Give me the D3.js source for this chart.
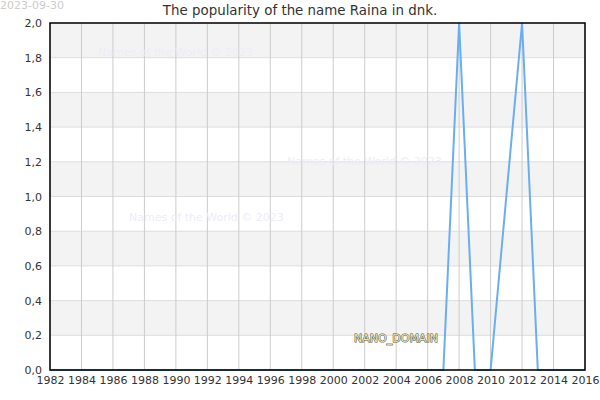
<!DOCTYPE html>
<html>
<head>
<meta charset="utf-8">
<script src="https://cdn.jsdelivr.net/npm/d3@7"></script>
<style>
  body { margin: 0; background: #fff; }
  svg { font-family: "DejaVu Sans", sans-serif; }
</style>
</head>
<body>
<div id="chart"></div>
<script>
// data
var years = d3.range(1982, 2017);
var values = [0, 0, 0, 0, 0, 0, 0, 0, 0, 0,   // 1982-1991
  0, 0, 0, 0, 0, 0, 0, 0, 0, 0,               // 1992-2001
  0, 0, 0, 0, 0, 0, 2, 0, 0, 1,               // 2002-2011
  2, 0, 0, 0, 0];                             // 2012-2016
var yTicks = [0, 0.2, 0.4, 0.6, 0.8, 1.0, 1.2, 1.4, 1.6, 1.8, 2.0];
var xTicks = d3.range(1982, 2017, 2);
var watermarks = [[98, 52], [287, 161], [129, 217]];

var lineColor = "#6aaef0";
var textGrey = "#333";

const margin = { top: 23, right: 15, bottom: 30, left: 50 },
  width = 600 - margin.left - margin.right,
  height = 400 - margin.top - margin.bottom;

const svgRoot = d3.select("#chart")
  .append("svg")
  .attr("width", 600)
  .attr("height", 400);

const svg = svgRoot.append("g")
  .attr("transform", `translate(${margin.left},${margin.top})`);

const x = d3.scaleLinear().domain([1982, 2016]).range([0, width]);
const y = d3.scaleLinear().domain([0, 2]).range([height, 0]);

// alternating bands
svg.selectAll(".band")
  .data(yTicks.slice(0, -1).filter(function (d, i) { return i % 2 === 1; }))
  .enter()
  .append("rect")
  .attr("x", 0)
  .attr("width", width)
  .attr("y", function (d) { return y(d + 0.2); })
  .attr("height", function (d) { return y(d) - y(d + 0.2); })
  .attr("fill", "#f3f3f3");

// horizontal grid
svg.selectAll(".hgrid")
  .data(yTicks)
  .enter()
  .append("line")
  .attr("x1", 0).attr("x2", width)
  .attr("y1", function (d) { return y(d); })
  .attr("y2", function (d) { return y(d); })
  .attr("stroke", "#dddddd");

// vertical grid
svg.selectAll(".vgrid")
  .data(xTicks)
  .enter()
  .append("line")
  .attr("y1", 0).attr("y2", height)
  .attr("x1", function (d) { return x(d); })
  .attr("x2", function (d) { return x(d); })
  .attr("stroke", "#cccccc");

// watermarks
svgRoot.selectAll(".wm")
  .data(watermarks)
  .enter()
  .append("text")
  .attr("x", function (d) { return d[0]; })
  .attr("y", function (d) { return d[1]; })
  .attr("dy", "0.35em")
  .style("font-size", "11px")
  .style("fill", "#ededfa")
  .text("Names of the World © 2023");

// the line
svg.append("path")
  .datum(years.map(function (d, i) { return [d, values[i]]; }))
  .attr("fill", "none")
  .attr("stroke", lineColor)
  .attr("stroke-width", 2)
  .attr("d", d3.line()
    .x(function (d) { return x(d[0]); })
    .y(function (d) { return y(d[1]); }));

// frame
svg.append("rect")
  .attr("width", width)
  .attr("height", height)
  .attr("fill", "none")
  .attr("stroke", "#000")
  .attr("stroke-width", 1.5);

// axes
svg.append("g")
  .attr("transform", `translate(0, ${height})`)
  .call(d3.axisBottom(x).tickValues(xTicks).tickFormat(d3.format("d")).tickSize(0).tickPadding(6))
  .call(function (g) { g.select(".domain").remove(); })
  .selectAll("text")
  .style("fill", textGrey)
  .style("font-size", "11px")
  .style("font-family", "DejaVu Sans");

svg.append("g")
  .call(d3.axisLeft(y).tickValues(yTicks).tickFormat(function (d) { return d.toFixed(1).replace(".", ","); }).tickSize(0).tickPadding(8))
  .call(function (g) { g.select(".domain").remove(); })
  .selectAll("text")
  .style("fill", textGrey)
  .style("font-size", "11px")
  .style("font-family", "DejaVu Sans");

// title
svgRoot.append("text")
  .attr("x", 300)
  .attr("y", 15)
  .attr("text-anchor", "middle")
  .style("font-size", "13.4px")
  .style("fill", textGrey)
  .text("The popularity of the name Raina in dnk.");

// date
svgRoot.append("text")
  .attr("x", 0)
  .attr("y", 9)
  .style("font-size", "11px")
  .style("fill", "#cccccc")
  .text("2023-09-30");

// domain label
svgRoot.append("text")
  .attr("x", 396)
  .attr("y", 338)
  .attr("dy", "0.35em")
  .attr("text-anchor", "middle")
  .style("font-size", "11px")
  .style("fill", "#e8e8c8")
  .style("stroke", "#555533")
  .style("stroke-width", 1)
  .style("paint-order", "stroke")
  .text("NANO_DOMAIN");
</script>
</body>
</html>
